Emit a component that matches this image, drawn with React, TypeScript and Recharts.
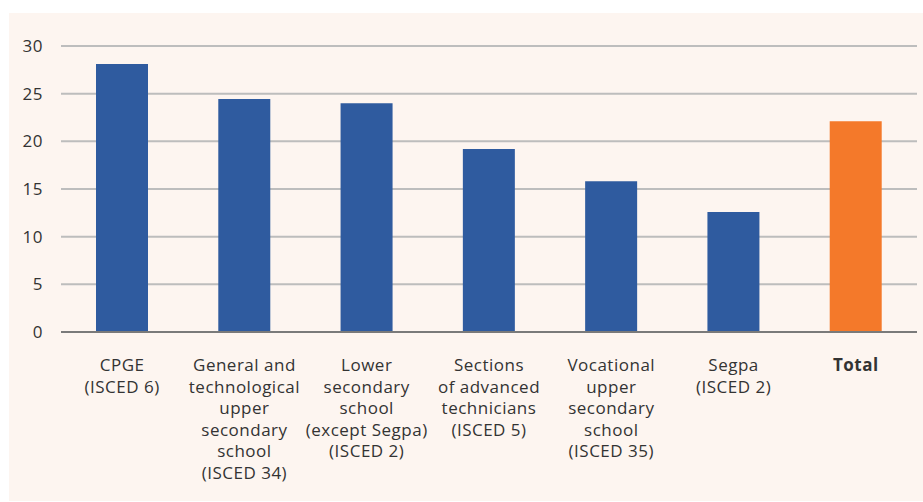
import { BarChart, Bar, XAxis, YAxis, CartesianGrid, Cell, ReferenceLine } from 'recharts'

const categories = ['CPGE', 'General', 'Lower', 'Sections', 'Vocational', 'Segpa', 'Total']
const labelLines = [
  ['CPGE', '(ISCED 6)'],
  ['General and', 'technological', 'upper', 'secondary', 'school', '(ISCED 34)'],
  ['Lower', 'secondary', 'school', '(except Segpa)', '(ISCED 2)'],
  ['Sections', 'of advanced', 'technicians', '(ISCED 5)'],
  ['Vocational', 'upper', 'secondary', 'school', '(ISCED 35)'],
  ['Segpa', '(ISCED 2)'],
  ['Total'],
]
const values = [28.1, 24.45, 24.0, 19.2, 15.8, 12.6, 22.1]
const yTicks = [0, 5, 10, 15, 20, 25, 30]

const data = categories.map((c, i) => ({ name: c, value: values[i] }))

const FONT = '"Open Sans", sans-serif'

const XTick = ({ x, y, index }: any) => {
  const lines = labelLines[index] || []
  const bold = categories[index] === 'Total'
  return (
    <text x={x} y={y} textAnchor="middle" fill="#333" fontSize={17} letterSpacing={0.5} fontFamily={FONT} fontWeight={bold ? 700 : 400}>
      {lines.map((l, i) => (
        <tspan key={i} x={x} y={y + 39 + i * 21.5}>{l}</tspan>
      ))}
    </text>
  )
}

export default function App() {
  return (
    <div style={{ position: 'absolute', left: 0, top: 0, width: 923, height: 502, background: '#fff' }}>
      <div style={{ position: 'absolute', left: 9, top: 13, right: 0, bottom: 1, background: '#fdf5f0' }} />
      <div style={{ position: 'absolute', left: 0, top: 0 }}>
        <BarChart width={923} height={502} data={data} margin={{ top: 46, right: 6, bottom: 0, left: 0 }} barCategoryGap={0}>
          <CartesianGrid vertical={false} stroke="#bdbdbd" strokeWidth={2} />
          <XAxis dataKey="name" interval={0} height={170} axisLine={false} tickLine={false} tickSize={0} tickMargin={0} tick={<XTick />} />
          <YAxis domain={[0, 30]} ticks={yTicks} width={61} axisLine={false} tickLine={false} tickSize={0} tickMargin={18}
            tick={{ fill: '#333', fontSize: 17, fontFamily: FONT, letterSpacing: 0.5 }} />
          <ReferenceLine y={0} stroke="#7a7a7a" strokeWidth={2} />
          <Bar dataKey="value" barSize={52} isAnimationActive={false}>
            {data.map((d, i) => (
              <Cell key={i} fill={d.name === 'Total' ? '#f4792a' : '#2f5b9f'} />
            ))}
          </Bar>
        </BarChart>
      </div>
    </div>
  )
}
